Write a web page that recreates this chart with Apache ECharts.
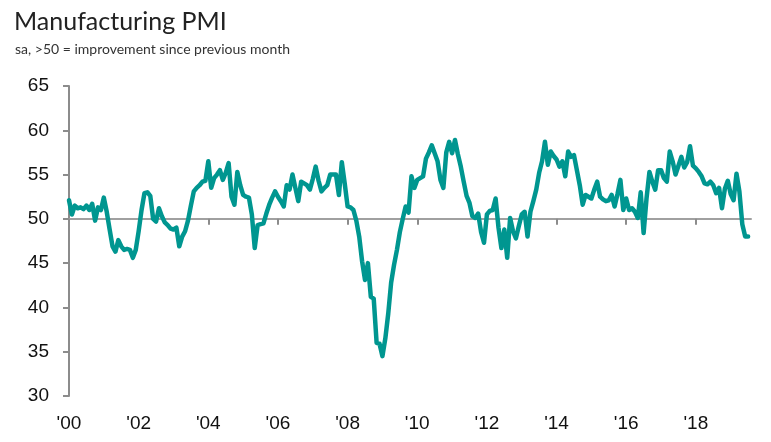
<!DOCTYPE html>
<html>
<head>
<meta charset="utf-8">
<script src="https://cdn.jsdelivr.net/npm/echarts@6/dist/echarts.min.js"></script>
<style>
  html, body { margin: 0; padding: 0; background: #fff; }
  #chart { width: 771px; height: 442px; }
</style>
</head>
<body>
<div id="chart"></div>
<script>
// monthly, seasonally adjusted, Jan 2000 - Jul 2019
var startYear = 2000;
var pmi2000s = [
	52.1, 50.5, 51.5, 51.2, 51.3, 51.1, 51.5, 51.0, 51.7, 49.8, 51.3, 51.0,
	52.4, 50.8, 48.8, 46.9, 46.3, 47.6, 46.9, 46.5, 46.6, 46.5, 45.6, 46.5,
	48.6, 51.0, 52.9, 53.0, 52.6, 50.0, 49.7, 51.2, 50.3, 49.6, 49.3, 48.9,
	48.8, 49.0, 46.9, 48.0, 48.6, 49.8, 51.5, 53.1, 53.5, 53.8, 54.2, 54.3,
	56.5, 53.5, 54.6, 55.0, 55.5, 54.4, 55.2, 56.3, 52.5, 51.6, 55.3, 53.8
];
var pmi2005s = [
	52.7, 52.5, 52.4, 50.5, 46.7, 49.3, 49.4, 49.5, 50.6, 51.6, 52.4, 53.1,
	52.5, 52.0, 51.4, 53.8, 53.3, 55.0, 53.5, 52.0, 54.2, 54.0, 53.8, 53.3,
	54.5, 55.9, 54.3, 53.1, 53.5, 53.8, 55.0, 55.0, 55.0, 52.7, 56.4, 54.0,
	51.4, 51.3, 51.0, 49.8, 48.0, 45.2, 43.1, 45.0, 41.2, 41.0, 36.0, 35.9,
	34.5, 36.5, 39.3, 42.8, 44.8, 46.5, 48.5, 50.0, 51.4, 50.7, 54.8, 53.5
];
var pmi2010s = [
	54.4, 54.6, 54.8, 56.8, 57.5, 58.3, 57.4, 56.5, 54.4, 53.5, 57.5, 58.7,
	57.4, 58.9, 57.3, 55.9, 54.2, 52.6, 51.8, 50.3, 50.1, 50.6, 48.5, 47.3,
	50.5, 50.9, 51.0, 52.3, 49.0, 46.7, 48.8, 45.6, 50.1, 48.6, 47.8, 49.2,
	50.5, 50.8, 48.0, 50.8, 52.0, 53.3, 55.2, 56.5, 58.7, 56.1, 57.6, 57.1,
	56.7, 55.9, 56.5, 54.8, 57.6, 57.0, 57.2, 55.5, 53.8, 51.6, 52.7, 52.5
];
var pmi2015s = [
	52.3, 53.3, 54.2, 52.5, 52.2, 52.0, 52.1, 52.7, 51.4, 52.8, 54.4, 51.0,
	52.3, 51.0, 51.2, 50.8, 50.1, 53.0, 48.4, 52.3, 55.3, 54.2, 53.3, 55.5,
	55.5, 54.6, 54.2, 57.6, 56.5, 55.0, 56.0, 57.0, 55.8, 56.4, 58.2, 56.0,
	55.7, 55.3, 54.8, 54.0, 53.9, 54.2, 53.8, 52.9, 53.5, 51.2, 53.4, 54.3,
	52.8, 52.1, 55.1, 53.1, 49.4, 48.0, 48.0
];
var pmi = pmi2000s.concat(pmi2005s, pmi2010s, pmi2015s);

// one spare month on the axis after the last reading
var months = [];
for (var i = 0; i <= pmi.length; i++) {
	var y = startYear + Math.floor(i / 12);
	var m = i % 12 + 1;
	months.push(y + '-' + (m < 10 ? '0' + m : m));
}

var yMin = 30, yMax = 65, yStep = 5, neutral = 50;
var gridTop = 86, gridBottom = 46, chartH = 442;
var plotH = chartH - gridTop - gridBottom;
var neutralOffset = -(neutral - yMin) / (yMax - yMin) * plotH;

function everyTwoYears(index) {
	return index % 24 === 0;
}

var myChart = echarts.init(document.getElementById('chart'));
var option = {
	animation: false,
	title: [{
		text: 'Manufacturing PMI',
		left: 9,
		top: 4,
		textStyle: { fontFamily: 'Lato', fontSize: 25, fontWeight: 'normal', color: '#222' }
	}, {
		text: 'sa, >50 = improvement since previous month',
		left: 10,
		top: 37,
		textStyle: { fontFamily: 'Lato', fontSize: 14, fontWeight: 'normal', color: '#333' }
	}],
	grid: { left: 69, right: 20, top: gridTop, bottom: gridBottom },
	xAxis: [{
		type: 'category',
		data: months,
		boundaryGap: false,
		axisLine: { show: false },
		axisTick: { show: false },
		axisLabel: {
			interval: everyTwoYears,
			margin: 18,
			fontFamily: 'Liberation Sans',
			fontSize: 19,
			color: '#111',
			formatter: function(v) { return "'" + v.slice(2, 4); }
		}
	}, {
		// the 50 line with its year ticks
		type: 'category',
		data: months,
		boundaryGap: false,
		position: 'bottom',
		offset: neutralOffset,
		axisLine: { show: true, lineStyle: { color: '#a0a0a0', width: 2 } },
		axisTick: { show: true, interval: everyTwoYears, length: 6, lineStyle: { color: '#8c8c8c', width: 2 } },
		axisLabel: { show: false }
	}],
	yAxis: {
		type: 'value',
		min: yMin,
		max: yMax,
		interval: yStep,
		axisLine: { show: true, lineStyle: { color: '#8c8c8c', width: 2 } },
		axisTick: { show: true, length: 6, lineStyle: { color: '#8c8c8c', width: 2 } },
		axisLabel: { margin: 20, fontFamily: 'Liberation Sans', fontSize: 19, color: '#111' },
		splitLine: { show: false }
	},
	series: [{
		type: 'line',
		data: pmi,
		xAxisIndex: 0,
		showSymbol: false,
		symbol: 'none',
		lineStyle: { color: '#009690', width: 4.5, cap: 'round', join: 'round' }
	}]
};
myChart.setOption(option);
</script>
</body>
</html>
